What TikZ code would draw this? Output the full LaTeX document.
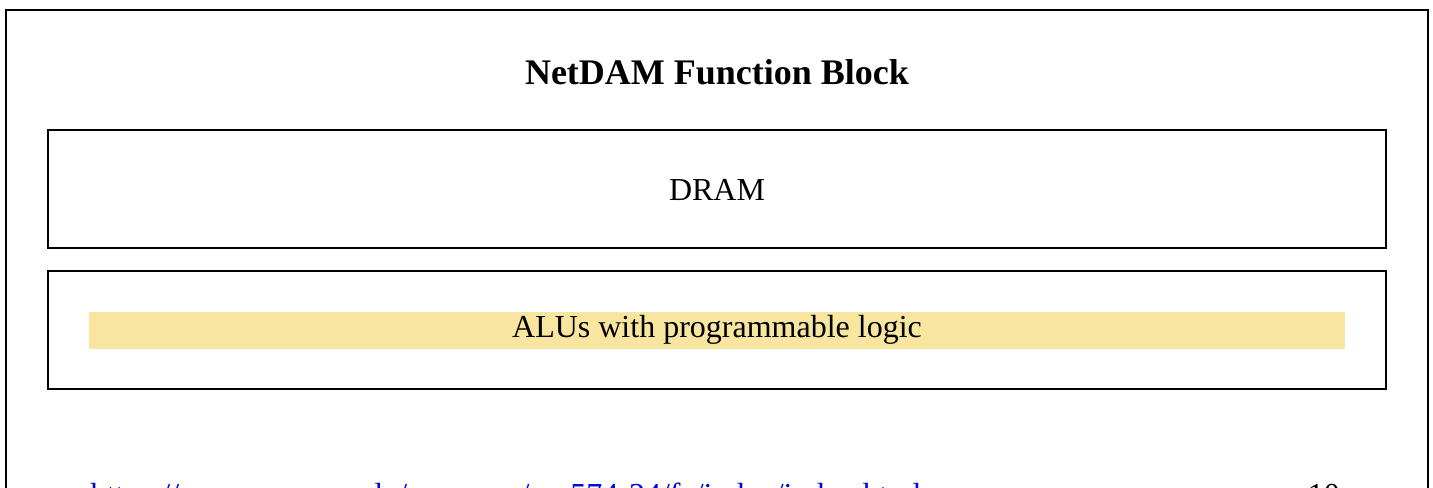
\documentclass[tikz,border=0pt]{standalone}
\usepackage{fontspec}
\setmainfont{Liberation Serif}
\definecolor{alufill}{RGB}{248,229,160}
\definecolor{linkblue}{RGB}{0,0,238}
\begin{document}
\begin{tikzpicture}[x=0.75pt,y=-0.75pt,
  frame/.style={draw=black,line width=1.5pt},
  bodytext/.style={font=\fontsize{24}{28}\selectfont,inner sep=0pt},
  titletext/.style={font=\fontsize{27}{32}\selectfont\bfseries,inner sep=0pt}]
\useasboundingbox (0,0) rectangle (1433,487);
\clip (0,0) rectangle (1433,487);
\fill[white] (0,0) rectangle (1433,487);
\draw[frame] (6,10) rectangle (1428,560);
\node[titletext] (title) at (717,72) {NetDAM Function Block};
\draw[frame] (48,130) rectangle (1386,248);
\node[bodytext] (dram) at (717,190) {DRAM};
\draw[frame] (48,271) rectangle (1386,389);
\fill[alufill] (89,312) rectangle (1345,349);
\node[bodytext] (alu) at (717,330) {ALUs with programmable logic};
\node[bodytext,anchor=base west,text=linkblue] (url) at (90,505) {https://www.cs.cmu.edu/\textasciitilde courses/cse574-24/fa/index/index.html};
\node[bodytext,anchor=base east] (page) at (1340,505) {10};
\end{tikzpicture}
\end{document}
